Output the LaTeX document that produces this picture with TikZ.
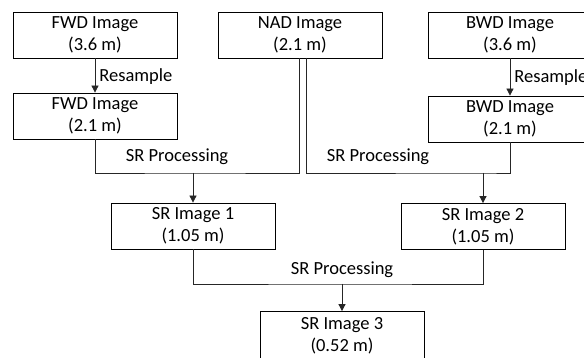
\documentclass[tikz,border=0pt]{standalone}
\usepackage{fontspec}
\setmainfont{Carlito}
\usetikzlibrary{arrows.meta}
\begin{document}
\begin{tikzpicture}[x=1pt,y=-1pt,
  imgbox/.style={draw=black,line width=0.8pt,minimum width=164pt,minimum height=46pt,
    align=center,inner sep=0pt,font=\fontsize{18.5}{22}\selectfont},
  lbl/.style={font=\fontsize{18.5}{22}\selectfont,inner sep=0pt},
  conn/.style={draw=black!85,line width=0.8pt},
  arr/.style={conn,-{Triangle[length=7pt,width=7pt]}}]
\useasboundingbox (0,0) rectangle (584,358);
\fill[white] (0,0) rectangle (584,358);
\clip (0,0) rectangle (584,358);
\node[imgbox] (fwd1) at (95,35) {FWD Image\\(3.6 m)};
\node[imgbox] (fwd2) at (95,116) {FWD Image\\(2.1 m)};
\node[imgbox] (nad) at (300,35) {NAD Image\\(2.1 m)};
\node[imgbox] (bwd1) at (510,35) {BWD Image\\(3.6 m)};
\node[imgbox] (bwd2) at (510,119) {BWD Image\\(2.1 m)};
\node[imgbox] (sr1) at (193,226) {SR Image 1\\(1.05 m)};
\node[imgbox] (sr2) at (483,226.5) {SR Image 2\\(1.05 m)};
\node[imgbox,minimum height=49pt] (sr3) at (342,336) {SR Image 3\\(0.52 m)};
\coordinate (nadl) at (299,58);
\coordinate (nadr) at (306,58);
\coordinate (j1) at (193,173);
\coordinate (j2) at (483,173);
\coordinate (j3) at (342,284);
\draw[arr] (fwd1.south) -- (fwd2.north) node[lbl,midway,right,xshift=4pt,yshift=-1pt] {Resample};
\draw[arr] (bwd1.south) -- (bwd2.north) node[lbl,midway,right,xshift=4pt,yshift=-1pt] {Resample};
\draw[conn] (fwd2.south) |- (j1) -| (nadl);
\draw[conn] (nadr) |- (j2) -| (bwd2.south);
\draw[conn] (sr1.south) |- (j3) -| (sr2.south);
\draw[arr] (j1) -- (sr1.north);
\draw[arr] (j2) -- (sr2.north);
\draw[arr] (j3) -- (sr3.north);
\node[lbl] (p1) at (177,157) {SR Processing};
\node[lbl] (p2) at (378,157) {SR Processing};
\node[lbl] (p3) at (342,270) {SR Processing};
\end{tikzpicture}
\end{document}
